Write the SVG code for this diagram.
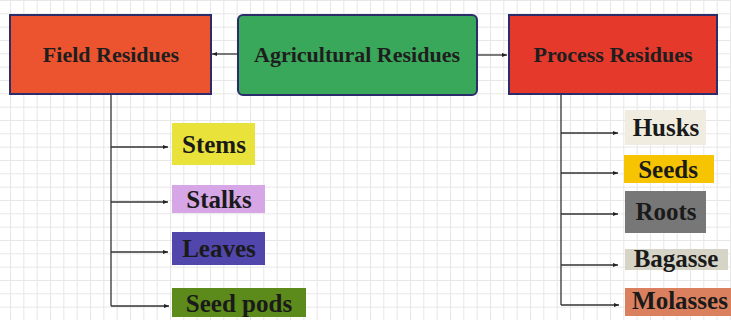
<svg xmlns="http://www.w3.org/2000/svg" width="731" height="320" viewBox="0 0 731 320">
<defs>
<pattern id="grid" patternUnits="userSpaceOnUse" x="10" y="0" width="13.333" height="13.333">
<path d="M0 0.5 H13.333 M0.5 0 V13.333" fill="none" stroke="#e6e6e6" stroke-width="1"/>
</pattern>
<marker id="arr" viewBox="0 0 10 10" refX="10" refY="5" markerWidth="5" markerHeight="5" orient="auto" markerUnits="userSpaceOnUse">
<path d="M0 1 L10 5 L0 9 Z" fill="#222"/>
</marker>
<style>
.main{stroke:#2b2d6b;stroke-width:2}
.mt{font-family:"Liberation Serif","Times New Roman",serif;font-weight:bold;font-size:22px;fill:#1e1e1e;text-anchor:middle}
.lt{font-family:"Liberation Serif","Times New Roman",serif;font-weight:bold;font-size:25px;fill:#1a1a1a;text-anchor:middle}
.c{fill:none;stroke:#333;stroke-width:1.3}
</style>
</defs>
<rect width="731" height="320" fill="#fff"/>
<rect width="731" height="320" fill="url(#grid)"/>
<g id="connectors">
<path class="c" d="M237 54 H212" marker-end="url(#arr)"/>
<path class="c" d="M477 55 H507" marker-end="url(#arr)"/>
<path class="c" d="M111 94 V306"/>
<path class="c" d="M111 147 H168" marker-end="url(#arr)"/>
<path class="c" d="M111 202 H168" marker-end="url(#arr)"/>
<path class="c" d="M111 252 H168" marker-end="url(#arr)"/>
<path class="c" d="M111 306 H169" marker-end="url(#arr)"/>
<path class="c" d="M561 94 V305"/>
<path class="c" d="M561 133 H618" marker-end="url(#arr)"/>
<path class="c" d="M561 173 H618" marker-end="url(#arr)"/>
<path class="c" d="M561 214 H618" marker-end="url(#arr)"/>
<path class="c" d="M561 265 H618" marker-end="url(#arr)"/>
<path class="c" d="M561 305 H619" marker-end="url(#arr)"/>
</g>
<g id="field">
<rect class="main" x="10" y="15" width="201" height="79" fill="#ec5430"/>
<text class="mt" x="111" y="62">Field Residues</text>
</g>
<g id="agri">
<rect class="main" x="238" y="15" width="239" height="80" rx="5" fill="#3aa85a"/>
<text class="mt" x="357" y="62">Agricultural Residues</text>
</g>
<g id="process">
<rect class="main" x="509" y="15" width="208" height="79" fill="#e5392c"/>
<text class="mt" x="613" y="62">Process Residues</text>
</g>
<g id="stems">
<rect x="172" y="123" width="83" height="42" fill="#e9e23a"/>
<text class="lt" x="214" y="153">Stems</text>
</g>
<g id="stalks">
<rect x="172" y="185" width="93" height="28" fill="#d6a6e6"/>
<text class="lt" x="219" y="208">Stalks</text>
</g>
<g id="leaves">
<rect x="172" y="232" width="93" height="33" fill="#5146ab"/>
<text class="lt" x="219" y="257">Leaves</text>
</g>
<g id="seedpods">
<rect x="172" y="288" width="134" height="29" fill="#5d8b1b"/>
<text class="lt" x="239" y="312">Seed pods</text>
</g>
<g id="husks">
<rect x="625" y="110" width="81" height="35" fill="#f0ede0"/>
<text class="lt" x="666" y="136">Husks</text>
</g>
<g id="seeds">
<rect x="624" y="155" width="90" height="28" fill="#f6c400"/>
<text class="lt" x="668" y="178">Seeds</text>
</g>
<g id="roots">
<rect x="625" y="191" width="81" height="42" fill="#777"/>
<text class="lt" x="666" y="220">Roots</text>
</g>
<g id="bagasse">
<rect x="625" y="249" width="103" height="21" fill="#d6d4c6"/>
<text class="lt" x="676" y="267">Bagasse</text>
</g>
<g id="molasses">
<rect x="625" y="288" width="106" height="28" fill="#da805e"/>
<text class="lt" x="680" y="309">Molasses</text>
</g>
</svg>
